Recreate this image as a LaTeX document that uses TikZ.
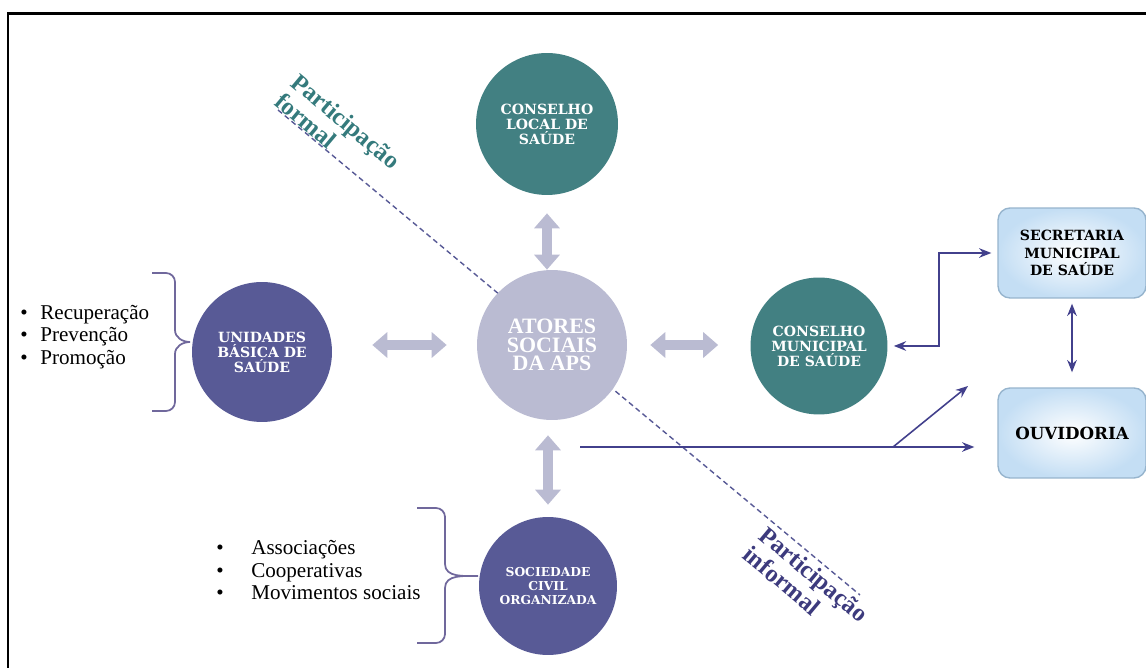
\documentclass[tikz,border=0pt]{standalone}
\usepackage{fontspec}
\setmainfont{Liberation Serif}
\newfontfamily\slab{DejaVu Serif}
\usetikzlibrary{arrows.meta}
\definecolor{tealc}{RGB}{66,128,130}
\definecolor{navyc}{RGB}{88,90,150}
\definecolor{lilac}{RGB}{186,187,210}
\definecolor{linec}{RGB}{66,64,140}
\definecolor{bracec}{RGB}{112,104,156}
\definecolor{boxblue}{RGB}{196,222,244}
\definecolor{boxline}{RGB}{150,180,205}
\definecolor{labteal}{RGB}{52,122,124}
\definecolor{labnavy}{RGB}{60,58,125}

\begin{document}
\begin{tikzpicture}[x=0.02cm,y=-0.02cm,
    actor/.style={circle,inner sep=0pt,text=white,align=center,font=\slab\bfseries\fontsize{8}{8.6}\selectfont},
    orgbox/.style={rectangle,rounded corners=0.24cm,draw=boxline,line width=0.8pt,minimum width=2.96cm,minimum height=1.8cm,inner color=white,outer color=boxblue,align=center,font=\slab\bfseries\fontsize{8}{9.8}\selectfont},
    fatarrow/.style={draw=lilac,line width=0.2cm,{Triangle[width=0.5cm,length=0.3cm]}-{Triangle[width=0.5cm,length=0.3cm]}},
    thinarrow/.style={draw=linec,line width=0.9pt,-{Stealth[length=7pt,width=5.5pt]}},
    bracket/.style={draw=bracec,line width=1pt},
    dashline/.style={draw=navyc,line width=0.8pt,dash pattern=on 3pt off 2pt},
    bullets/.style={anchor=west,inner sep=0pt,align=left,font=\fontsize{12}{12.8}\selectfont},
    partlabel/.style={rotate=-40,align=left,inner sep=0pt,font=\bfseries\fontsize{14}{14.4}\selectfont}]
    \useasboundingbox(0,0)rectangle(1146,668);
    % frame
    \draw[line width=1.7pt](8,680)--(8,14)--(1160,14);

    % participacao line
    \coordinate(fa)at(278,110);
    \coordinate(fb)at(860,595);
    \draw[dashline](fa)--(fb);

    % circles
    \node[actor,fill=tealc,minimum size=2.84cm](cls)at(547,124){CONSELHO\\LOCAL DE\\SAÚDE};
    \node[actor,fill=lilac,minimum size=3cm,font=\bfseries\fontsize{12.5}{10.5}\selectfont](aps)at(552,345){ATORES\\SOCIAIS\\DA APS};
    \node[actor,fill=navyc,minimum size=2.8cm](ubs)at(262,352){UNIDADES\\BÁSICA DE\\SAÚDE};
    \node[actor,fill=tealc,minimum size=2.74cm](cms)at(819,346){CONSELHO\\MUNICIPAL\\DE SAÚDE};
    \node[actor,fill=navyc,minimum size=2.76cm,font=\slab\bfseries\fontsize{7}{8}\selectfont](soc)at(548,586){SOCIEDADE\\CIVIL\\ORGANIZADA};

    % boxes
    \node[orgbox](sec)at(1072,253){SECRETARIA\\MUNICIPAL\\DE SAÚDE};
    \node[orgbox,font=\slab\bfseries\fontsize{9.5}{11}\selectfont](ouv)at(1072,433){OUVIDORIA};

    % fat arrows
    \draw[fatarrow,shorten <=0.36cm](cls.south)--(cls.south|-aps.north);
    \draw[fatarrow,shorten <=0.3cm,shorten >=0.24cm](soc.north|-aps.south)--(soc.north);
    \draw[fatarrow,shorten <=0.8cm,shorten >=0.6cm](ubs.east|-aps)--(aps.west);
    \draw[fatarrow,shorten <=0.46cm,shorten >=0.64cm](aps.east)--(aps.east-|cms.west);

    % thin arrows
    \draw[thinarrow,{Stealth[length=7pt,width=5.5pt]}-{Stealth[length=7pt,width=5.5pt]},shorten <=0.12cm,shorten >=0.12cm](cms.east)--++(51,0)|-(sec.west);
    \draw[thinarrow,{Stealth[length=7pt,width=5.5pt]}-{Stealth[length=7pt,width=5.5pt]},shorten <=0.1cm,shorten >=0.3cm](sec.south)--(ouv.north);
    \coordinate(line)at(580,447);
    \coordinate(fork)at(893,447);
    \coordinate(tip)at(968,386);
    \draw[thinarrow,shorten >=0.46cm](line)--(line-|ouv.west);
    \draw[thinarrow](fork)--(tip);

    % brackets
    \draw[bracket](152,273)--(166,273)to[out=0,in=90](175,282)--(175,330)to[out=-90,in=180](190,342)to[out=180,in=90](175,354)--(175,402)to[out=-90,in=0](166,411)--(152,411);
    \draw[bracket](417,508)--(436,508)to[out=0,in=90](445,517)--(445,564)to[out=-90,in=180](478,576)to[out=180,in=90](445,588)--(445,634)to[out=-90,in=0](436,643)--(417,643);

    % lists
    \node[bullets](ubslist)at(20,337){\textbullet\hspace{7.2pt}Recuperação\\\textbullet\hspace{7.2pt}Prevenção\\\textbullet\hspace{7.2pt}Promoção};
    \node[bullets](soclist)at(216,570){\textbullet\hspace{15.7pt}Associações\\\textbullet\hspace{15.7pt}Cooperativas\\\textbullet\hspace{15.7pt}Movimentos sociais};

    % labels
    \node[partlabel,text=labteal](formal)at(338,131){Participação\\formal};
    \node[partlabel,text=labnavy](informal)at(806,584){Participação\\informal};
\end{tikzpicture}
\end{document}
